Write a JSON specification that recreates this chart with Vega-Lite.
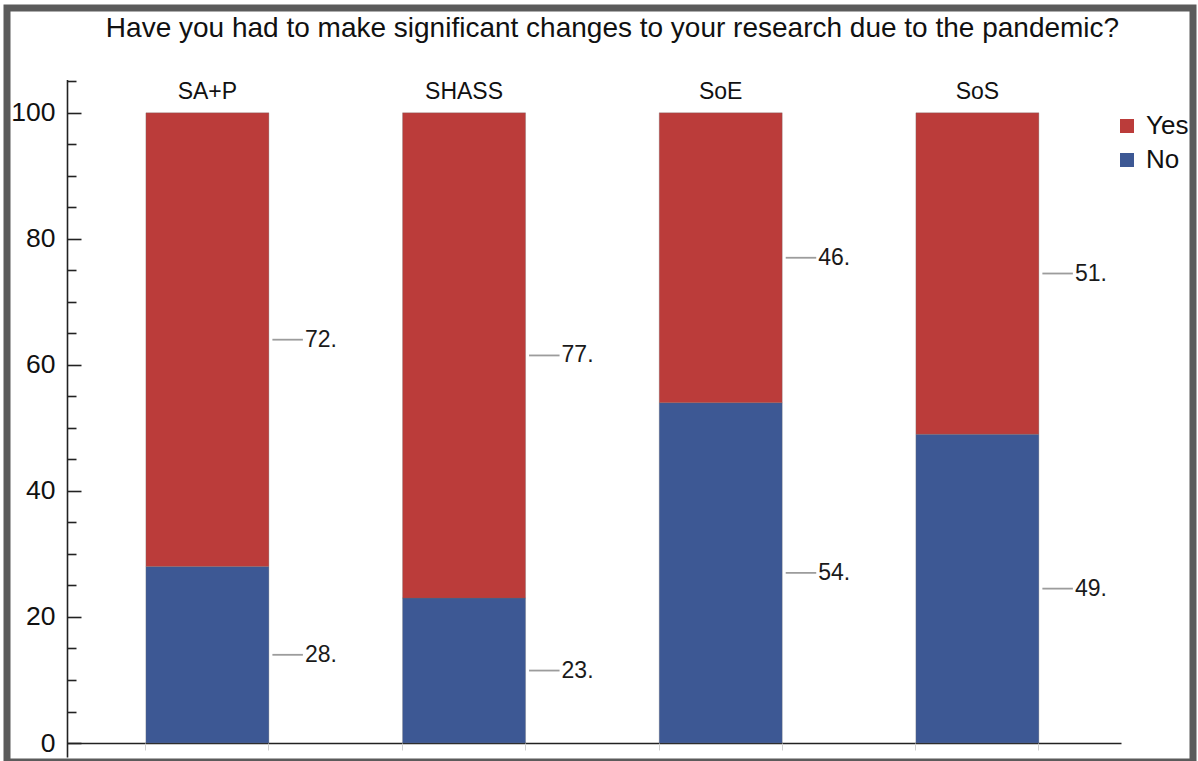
{
  "$schema": "https://vega.github.io/schema/vega-lite/v6.json",
  "autosize": {"type": "none"},
  "width": 1186,
  "height": 754,
  "padding": {"left": 7, "top": 8, "right": 5, "bottom": 0},
  "background": "white",
  "config": {"view": {"stroke": "#5b5b5b", "strokeWidth": 7}, "font": "Liberation Sans"},
  "data": {
    "values": [
      {"school": "SA+P", "response": "No", "value": 28},
      {"school": "SA+P", "response": "Yes", "value": 72},
      {"school": "SHASS", "response": "No", "value": 23},
      {"school": "SHASS", "response": "Yes", "value": 77},
      {"school": "SoE", "response": "No", "value": 54},
      {"school": "SoE", "response": "Yes", "value": 46},
      {"school": "SoS", "response": "No", "value": 49},
      {"school": "SoS", "response": "Yes", "value": 51}
    ]
  },
  "transform": [
    {"stack": "value", "groupby": ["school"], "sort": [{"field": "response", "order": "ascending"}], "as": ["v0", "v1"]},
    {"calculate": "(datum.v0 + datum.v1) / 2", "as": "mid"},
    {"calculate": "datum.value + '.'", "as": "label"}
  ],
  "layer": [
    {
      "mark": {"type": "bar", "stroke": "#6a6a6a", "strokeWidth": 0.6, "strokeOpacity": 0.5},
      "encoding": {
        "x": {
          "field": "school", "type": "nominal", "sort": ["SA+P", "SHASS", "SoE", "SoS"],
          "scale": {"range": [60, 1114], "paddingInner": 0.5208, "paddingOuter": 0.3137, "align": 0.49},
          "axis": {"orient": "bottom", "offset": -19, "labels": false, "ticks": false, "title": null, "domainColor": "#222222", "domainWidth": 1.6, "grid": false}
        },
        "y": {
          "field": "v1", "type": "quantitative",
          "scale": {"domain": [-2.2, 105.3], "range": [748.9, 71.4], "nice": false, "zero": false},
          "axis": {"orient": "left", "offset": -60, "values": [0, 20, 40, 60, 80, 100], "ticks": false, "tickSize": 0, "domain": false, "grid": false, "labelPadding": 12, "labelFontSize": 26.5, "labelColor": "#111111", "labelFont": "Liberation Sans", "title": null}
        },
        "y2": {"field": "v0"},
        "color": {
          "field": "response", "type": "nominal",
          "scale": {"domain": ["Yes", "No"], "range": ["#BB3C3A", "#3D5894"]},
          "legend": {"orient": "none", "legendX": 1107, "legendY": 105, "title": null, "symbolType": "square", "symbolSize": 196, "symbolStrokeWidth": 0, "symbolOpacity": 1, "labelFontSize": 26, "labelFont": "Liberation Sans", "labelColor": "#111111", "labelOffset": 6, "rowPadding": 8, "padding": 0}
        }
      }
    },
    {
      "mark": {"type": "tick", "orient": "horizontal", "size": 30.5, "thickness": 1.8, "color": "#9c9c9c", "opacity": 1, "xOffset": 80.25},
      "encoding": {
        "x": {
          "field": "school", "type": "nominal", "sort": ["SA+P", "SHASS", "SoE", "SoS"],
          "axis": {"orient": "bottom", "offset": -19, "labels": false, "domain": false, "ticks": true, "bandPosition": 0, "tickSize": 7, "tickColor": "#d0d0d0", "tickWidth": 1, "title": null, "grid": false}
        },
        "y": {
          "field": "mid", "type": "quantitative",
          "axis": {"orient": "left", "offset": -60, "values": [0, 20, 40, 60, 80, 100], "tickSize": -14, "tickWidth": 1.6, "tickColor": "#222222", "labels": false, "domain": true, "domainColor": "#222222", "domainWidth": 1.6, "grid": false, "title": null}
        }
      }
    },
    {
      "mark": {"type": "text", "align": "left", "baseline": "middle", "dx": 97.5, "fontSize": 23, "color": "#1a1a1a", "font": "Liberation Sans"},
      "encoding": {
        "x": {
          "field": "school", "type": "nominal", "sort": ["SA+P", "SHASS", "SoE", "SoS"],
          "axis": {"orient": "bottom", "offset": -19, "labels": false, "domain": false, "ticks": true, "bandPosition": 1, "tickSize": 7, "tickColor": "#d0d0d0", "tickWidth": 1, "title": null, "grid": false}
        },
        "y": {
          "field": "mid", "type": "quantitative",
          "axis": {"orient": "left", "offset": -60, "values": [5, 10, 15, 25, 30, 35, 45, 50, 55, 65, 70, 75, 85, 90, 95, 105], "tickSize": -9, "tickWidth": 1.6, "tickColor": "#222222", "labels": false, "domain": false, "grid": false, "title": null}
        },
        "text": {"field": "label"}
      }
    },
    {
      "transform": [{"filter": "datum.response == 'Yes'"}],
      "mark": {"type": "text", "align": "center", "baseline": "middle", "fontSize": 23, "color": "#111111", "font": "Liberation Sans"},
      "encoding": {
        "x": {
          "field": "school", "type": "nominal", "sort": ["SA+P", "SHASS", "SoE", "SoS"],
          "axis": {"orient": "top", "offset": 0, "labels": false, "domain": false, "ticks": false, "grid": false,
            "title": "Have you had to make significant changes to your research due to the pandemic?",
            "titleX": 605, "titleY": 28, "titleAlign": "center", "titleAnchor": null, "titleBaseline": "alphabetic", "titleAngle": 0,
            "titleFontSize": 28, "titleFontWeight": "normal", "titleColor": "#111111", "titleFont": "Liberation Sans", "titlePadding": 0}
        },
        "y": {"datum": 103.35, "type": "quantitative", "axis": null},
        "text": {"field": "school"}
      }
    }
  ],
  "resolve": {"axis": {"x": "independent", "y": "independent"}}
}
